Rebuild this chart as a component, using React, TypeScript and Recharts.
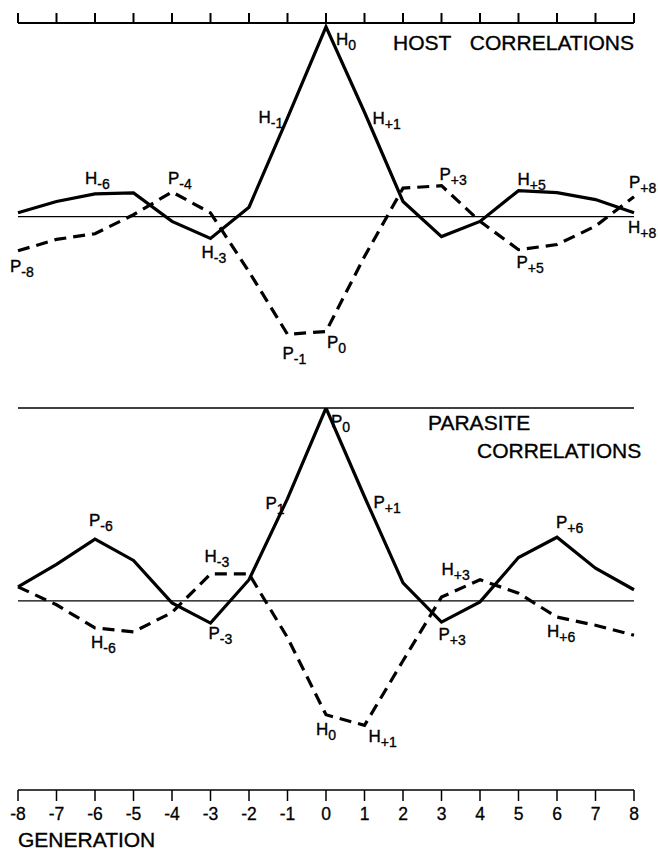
import React from "react";
import { LineChart, Line, XAxis, YAxis, ReferenceLine } from "recharts";

const FONT = "'Liberation Sans', Arial, sans-serif";

// lag in generations, shared by both panels
const generations = [-8, -7, -6, -5, -4, -3, -2, -1, 0, 1, 2, 3, 4, 5, 6, 7, 8];

// host correlations panel
const hostTop = [0.02, 0.08, 0.12, 0.125, -0.025, -0.115, 0.05, 0.52, 1.0, 0.55, 0.08, -0.105, -0.025, 0.137, 0.126, 0.09, 0.02];
const paraTop = [-0.18, -0.12, -0.09, 0.01, 0.13, 0.02, -0.29, -0.62, -0.605, -0.21, 0.15, 0.163, -0.025, -0.174, -0.147, -0.05, 0.105];

// parasite correlations panel
const paraBottom = [0.073, 0.19, 0.32, 0.21, -0.01, -0.115, 0.11, 0.53, 1.0, 0.54, 0.094, -0.11, -0.005, 0.225, 0.33, 0.17, 0.058];
const hostBottom = [0.073, -0.02, -0.14, -0.16, -0.06, 0.14, 0.14, -0.19, -0.59, -0.645, -0.31, 0.02, 0.11, 0.04, -0.084, -0.126, -0.178];

type Mark = { g: number; letter: string; sub: string; dx: number; dy: number };

const hostTopMarks: Mark[] = [
  { g: 0, letter: "H", sub: "0", dx: 10, dy: 18 },
  { g: -1, letter: "H", sub: "-1", dx: -29, dy: 5 },
  { g: 1, letter: "H", sub: "+1", dx: 8, dy: 12 },
  { g: -6, letter: "H", sub: "-6", dx: -10, dy: -10 },
  { g: -3, letter: "H", sub: "-3", dx: -9, dy: 20 },
  { g: 5, letter: "H", sub: "+5", dx: -1, dy: -6 },
  { g: 8, letter: "H", sub: "+8", dx: -6, dy: 20 },
];
const paraTopMarks: Mark[] = [
  { g: -4, letter: "P", sub: "-4", dx: -4, dy: -8 },
  { g: -8, letter: "P", sub: "-8", dx: -8, dy: 21 },
  { g: -1, letter: "P", sub: "-1", dx: -5, dy: 25 },
  { g: 0, letter: "P", sub: "0", dx: 1, dy: 17 },
  { g: 3, letter: "P", sub: "+3", dx: -2, dy: -6 },
  { g: 5, letter: "P", sub: "+5", dx: -2, dy: 18 },
  { g: 8, letter: "P", sub: "+8", dx: -5, dy: -9 },
];
const paraBottomMarks: Mark[] = [
  { g: -6, letter: "P", sub: "-6", dx: -6, dy: -13 },
  { g: -1, letter: "P", sub: "1", dx: -22, dy: 10 },
  { g: -3, letter: "P", sub: "-3", dx: -2, dy: 16 },
  { g: 0, letter: "P", sub: "0", dx: 5, dy: 19 },
  { g: 1, letter: "P", sub: "+1", dx: 9, dy: 11 },
  { g: 3, letter: "P", sub: "+3", dx: -3, dy: 18 },
  { g: 6, letter: "P", sub: "+6", dx: -1, dy: -9 },
];
const hostBottomMarks: Mark[] = [
  { g: -3, letter: "H", sub: "-3", dx: -6, dy: -12 },
  { g: -6, letter: "H", sub: "-6", dx: -4, dy: 20 },
  { g: 0, letter: "H", sub: "0", dx: -10, dy: 20 },
  { g: 1, letter: "H", sub: "+1", dx: 4, dy: 17 },
  { g: 3, letter: "H", sub: "+3", dx: 0, dy: -22 },
  { g: 6, letter: "H", sub: "+6", dx: -10, dy: 20 },
];

const topRows = generations.map((g, i) => ({ gen: g, host: hostTop[i], para: paraTop[i] }));
const bottomRows = generations.map((g, i) => ({ gen: g, host: hostBottom[i], para: paraBottom[i] }));

// draws the letter+subscript tag next to selected points instead of a dot
const markDot = (marks: Mark[]) => (props: any) => {
  const { cx, cy, index, payload } = props;
  const g = payload ? payload.gen : generations[index];
  const m = marks.find((k) => k.g === g);
  if (!m || cx == null || cy == null) return <g key={`d-${index}`} />;
  return (
    <text
      key={`d-${index}`}
      x={cx + m.dx}
      y={cy + m.dy}
      fontSize={17}
      fontFamily={FONT}
      fill="#000"
      stroke="#000"
      strokeWidth={0.35}
    >
      {m.letter}
      <tspan dy={5} fontSize={14}>{m.sub}</tspan>
    </text>
  );
};

const lineProps = {
  type: "linear" as const,
  stroke: "#000",
  strokeWidth: 3.2,
  isAnimationActive: false,
  activeDot: false,
};

export default function App() {
  return (
    <div style={{ position: "absolute", left: 0, top: 0, width: 658, height: 850, background: "#fff" }}>
      <div style={{ position: "absolute", left: 0, top: 0 }}>
        <LineChart width={658} height={384} data={topRows} margin={{ top: 3, right: 24, bottom: 6, left: 18 }}>
          <XAxis
            dataKey="gen"
            type="number"
            domain={[-8, 8]}
            ticks={generations}
            orientation="top"
            height={20}
            tickFormatter={() => ""}
            tickSize={10}
            axisLine={{ stroke: "#000", strokeWidth: 2 }}
            tickLine={{ stroke: "#000", strokeWidth: 2 }}
          />
          <YAxis hide type="number" domain={[-0.85, 1.02]} allowDataOverflow />
          <ReferenceLine y={0} stroke="#000" strokeWidth={1.3} />
          <Line {...lineProps} dataKey="host" dot={markDot(hostTopMarks)} />
          <Line {...lineProps} dataKey="para" strokeDasharray="12 7" dot={markDot(paraTopMarks)} />
        </LineChart>
      </div>
      <div style={{ position: "absolute", left: 0, top: 384 }}>
        <LineChart width={658} height={466} data={bottomRows} margin={{ top: 24, right: 24, bottom: 30, left: 18 }}>
          <XAxis
            dataKey="gen"
            type="number"
            domain={[-8, 8]}
            ticks={generations}
            height={30}
            tickSize={11}
            tickMargin={7}
            tick={{ fill: "#000", fontSize: 17.5, fontFamily: FONT, stroke: "#000", strokeWidth: 0.3 }}
            axisLine={{ stroke: "#000", strokeWidth: 1.5 }}
            tickLine={{ stroke: "#000", strokeWidth: 1.5 }}
          />
          <YAxis hide type="number" domain={[-0.98, 1.0]} allowDataOverflow />
          <ReferenceLine y={1} stroke="#000" strokeWidth={1.5} />
          <ReferenceLine y={0} stroke="#000" strokeWidth={1.3} />
          <Line {...lineProps} dataKey="para" dot={markDot(paraBottomMarks)} />
          <Line {...lineProps} dataKey="host" strokeDasharray="12 7" dot={markDot(hostBottomMarks)} />
        </LineChart>
      </div>
      <svg width={658} height={850} style={{ position: "absolute", left: 0, top: 0, pointerEvents: "none" }}>
        <g fontFamily={FONT} fontSize={21} fill="#000" stroke="#000" strokeWidth={0.35}>
          <text x={393} y={50}>HOST</text>
          <text x={634} y={50} textAnchor="end">CORRELATIONS</text>
          <text x={428} y={430}>PARASITE</text>
          <text x={477} y={458}>CORRELATIONS</text>
          <text x={18} y={847}>GENERATION</text>
        </g>
      </svg>
    </div>
  );
}
